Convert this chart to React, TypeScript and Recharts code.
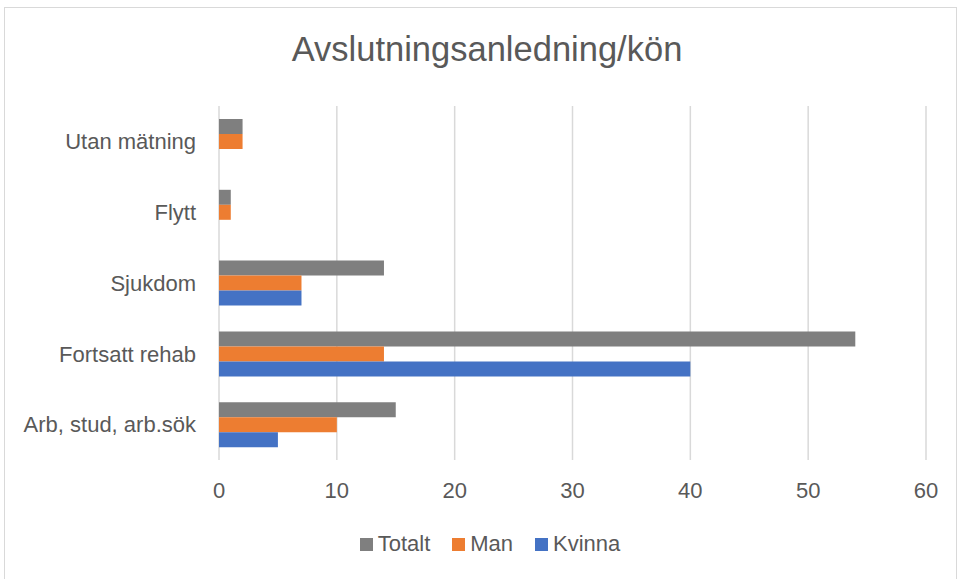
import { BarChart, Bar, XAxis, YAxis, CartesianGrid, Legend } from "recharts";

const categories = ["Utan mätning", "Flytt", "Sjukdom", "Fortsatt rehab", "Arb, stud, arb.sök"];
const totalt = [2, 1, 14, 54, 15];
const man = [2, 1, 7, 14, 10];
const kvinna = [0, 0, 7, 40, 5];
const xTicks = [0, 10, 20, 30, 40, 50, 60];

const chartData = categories.map((name, i) => ({
  name,
  Totalt: totalt[i],
  Man: man[i],
  Kvinna: kvinna[i],
}));

const font = "'Liberation Sans', Arial, sans-serif";
const textColor = "#595959";

const legendItems = [
  { name: "Totalt", color: "#7f7f7f" },
  { name: "Man", color: "#ed7d31" },
  { name: "Kvinna", color: "#4472c4" },
];

const renderLegend = () => (
  <div style={{ display: "flex", justifyContent: "center", paddingLeft: 23, fontFamily: font, fontSize: 22, color: textColor }}>
    {legendItems.map((it, i) => (
      <div key={it.name} style={{ display: "flex", alignItems: "center", marginLeft: i === 0 ? 0 : 22 }}>
        <span style={{ width: 13, height: 13, background: it.color, marginRight: 5, display: "inline-block" }} />
        <span>{it.name}</span>
      </div>
    ))}
  </div>
);

export default function App() {
  return (
    <div style={{ position: "absolute", left: 0, top: 0, width: 957, height: 579, background: "#fff", overflow: "hidden" }}>
      <div style={{ position: "absolute", left: 4, top: 7, width: 951, height: 600, border: "1px solid #d9d9d9" }} />
      <div style={{ position: "absolute", left: 0, top: 30, width: 974, textAlign: "center", fontFamily: font, fontSize: 34.5, color: textColor }}>
        Avslutningsanledning/kön
      </div>
      <BarChart
        width={957}
        height={579}
        data={chartData}
        layout="vertical"
        margin={{ top: 106, right: 31, bottom: 0, left: 0 }}
        barGap={0}
        barSize={15}
      >
        <CartesianGrid horizontal={false} stroke="#d9d9d9" strokeWidth={1.5} />
        <XAxis
          type="number"
          domain={[0, 60]}
          ticks={xTicks}
          height={119}
          axisLine={false}
          tickLine={false}
          tickSize={0}
          tickMargin={22}
          tick={{ fill: textColor, fontSize: 22, fontFamily: font }}
        />
        <YAxis
          type="category"
          dataKey="name"
          width={219}
          axisLine={false}
          tickLine={false}
          tickSize={0}
          tickMargin={23}
          tick={{ fill: textColor, fontSize: 22, fontFamily: font }}
        />
        <Legend verticalAlign="middle" content={renderLegend} wrapperStyle={{ top: 531, left: 0, width: 957 }} />
        <Bar dataKey="Totalt" fill="#7f7f7f" isAnimationActive={false} />
        <Bar dataKey="Man" fill="#ed7d31" isAnimationActive={false} />
        <Bar dataKey="Kvinna" fill="#4472c4" isAnimationActive={false} />
      </BarChart>
    </div>
  );
}
